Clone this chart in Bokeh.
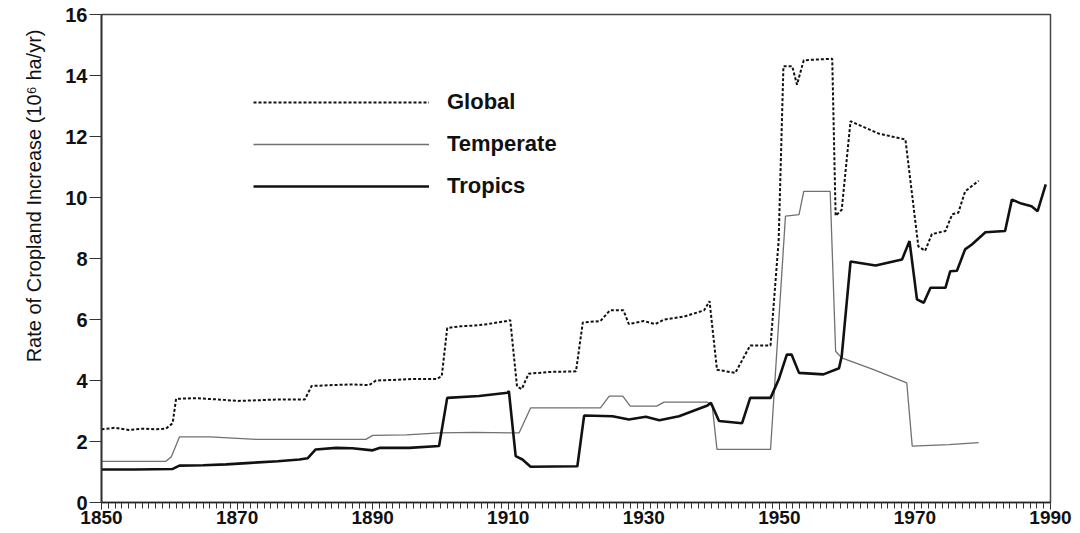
from bokeh.plotting import figure
from bokeh.models import FixedTicker, Legend, LegendItem, Range1d, Title
from bokeh.embed import file_html
from bokeh.resources import INLINE

# ---- data ----
global_years = [1850, 1852, 1854, 1856, 1858, 1859.5, 1860.5, 1861, 1864, 1867, 1870, 1873, 1876,
                1880, 1881, 1884, 1887, 1889.5, 1890.5, 1893, 1896, 1899.5, 1900.2, 1901, 1903,
                1905, 1907, 1909.8, 1910.3, 1911.3, 1912, 1913, 1916, 1920, 1921, 1923.6, 1925,
                1927, 1927.8, 1930, 1931.7, 1933, 1936, 1938.9, 1939.7, 1940.8, 1943.5, 1945.7,
                1948.7, 1949.9, 1950.6, 1951.9, 1952.6, 1953.6, 1957.8, 1958.3, 1959.2, 1960.5,
                1964.6, 1968.6, 1970.5, 1971.5, 1972.5, 1974.5, 1975.5, 1976.4, 1977.4, 1979.4]
global_vals = [2.4, 2.45, 2.38, 2.42, 2.4, 2.42, 2.6, 3.4, 3.42, 3.38, 3.33, 3.35, 3.38,
               3.38, 3.82, 3.85, 3.87, 3.85, 4.0, 4.02, 4.05, 4.05, 4.15, 5.72, 5.78,
               5.8, 5.85, 5.95, 5.98, 3.8, 3.72, 4.22, 4.28, 4.3, 5.9, 5.95, 6.3,
               6.3, 5.85, 5.95, 5.85, 6.0, 6.1, 6.3, 6.6, 4.35, 4.25, 5.15,
               5.15, 8.6, 14.3, 14.3, 13.7, 14.5, 14.55, 9.4, 9.6, 12.5,
               12.1, 11.9, 8.4, 8.25, 8.8, 8.9, 9.45, 9.5, 10.2, 10.55]

temperate_years = [1850, 1855, 1859.5, 1860.3, 1861.5, 1866, 1872.8, 1880, 1889, 1890, 1895, 1899.9,
                   1905, 1911.6, 1913.3, 1918, 1923.6, 1924.9, 1926.9, 1928, 1931.9, 1933, 1939.4,
                   1940.1, 1940.8, 1948.7, 1950.9, 1952.9, 1953.6, 1957.5, 1958.3, 1959.2, 1964,
                   1968.8, 1969.6, 1975, 1979.4]
temperate_vals = [1.35, 1.35, 1.35, 1.5, 2.15, 2.15, 2.07, 2.07, 2.07, 2.2, 2.22, 2.28,
                  2.3, 2.28, 3.1, 3.1, 3.1, 3.49, 3.49, 3.16, 3.16, 3.29, 3.29,
                  3.16, 1.74, 1.74, 9.39, 9.44, 10.2, 10.2, 4.96, 4.74, 4.35,
                  3.92, 1.85, 1.9, 1.96]

tropics_years = [1850, 1855, 1860.5, 1861.5, 1865, 1868.4, 1872, 1876, 1879.2, 1880.4, 1881.6,
                 1884.6, 1887, 1890, 1891, 1895.4, 1899.8, 1901, 1905.7, 1909.9, 1910.1, 1911.1,
                 1912.1, 1913.3, 1920.2, 1921.2, 1925.4, 1927.8, 1930.3, 1932.3, 1935.2, 1939.4,
                 1939.9, 1941.1, 1944.5, 1945.7, 1948.7, 1949.9, 1951.1, 1951.8, 1952.9, 1956.5,
                 1958.8, 1959.2, 1960.5, 1964.2, 1968.1, 1969.2, 1970.3, 1971.3, 1972.3, 1974.5,
                 1975.2, 1976.2, 1977.4, 1978.4, 1980.4, 1983.3, 1984.3, 1985.7, 1987.2, 1988.1,
                 1989.3]
tropics_vals = [1.08, 1.08, 1.1, 1.21, 1.22, 1.25, 1.3, 1.35, 1.41, 1.45, 1.74,
                1.79, 1.78, 1.71, 1.79, 1.79, 1.85, 3.43, 3.49, 3.6, 3.65, 1.52,
                1.41, 1.17, 1.19, 2.85, 2.83, 2.72, 2.81, 2.7, 2.83, 3.18,
                3.27, 2.67, 2.6, 3.43, 3.43, 4.03, 4.85, 4.85, 4.25, 4.2,
                4.4, 4.8, 7.9, 7.77, 7.97, 8.57, 6.66, 6.55, 7.04, 7.04,
                7.58, 7.6, 8.3, 8.46, 8.86, 8.9, 9.93, 9.8, 9.71, 9.55,
                10.43]

series_labels = ["Global", "Temperate", "Tropics"]
x_major_ticks = [1850, 1870, 1890, 1910, 1930, 1950, 1970, 1990]
x_minor_ticks = list(range(1850, 1991))
y_major_ticks = [0, 2, 4, 6, 8, 10, 12, 14, 16]
y_title = "Rate of Cropland Increase (10\u2076 ha/yr)"

assert len(global_years) == len(global_vals)
assert len(temperate_years) == len(temperate_vals)
assert len(tropics_years) == len(tropics_vals)

FONT = "Liberation Sans"

p = figure(width=1075, height=532,
           x_range=Range1d(1850, 1990), y_range=Range1d(0, 16),
           output_backend="svg", toolbar_location=None,
           min_border_left=101, min_border_right=25, min_border_top=14, min_border_bottom=30)

p.xgrid.visible = False
p.ygrid.visible = False
p.background_fill_color = "white"
p.border_fill_color = "white"
p.outline_line_color = "#444444"
p.outline_line_width = 1.5

g = p.line(global_years, global_vals, line_color="#111111", line_width=2.0, line_dash="3 2")
t = p.line(temperate_years, temperate_vals, line_color="#707070", line_width=1.3)
tr = p.line(tropics_years, tropics_vals, line_color="#111111", line_width=2.6)

# x axis
xa = p.xaxis[0]
xa.ticker = FixedTicker(ticks=x_major_ticks, minor_ticks=x_minor_ticks)
xa.major_tick_out = 7
xa.major_tick_in = 0
xa.minor_tick_out = 6
xa.minor_tick_in = 0
xa.major_label_standoff = 1
xa.major_label_text_font = FONT
xa.major_label_text_font_style = "bold"
xa.major_label_text_font_size = "19px"
xa.major_label_text_color = "#111111"
xa.axis_line_width = 1.5
xa.axis_line_color = "#222222"
xa.major_tick_line_color = "#222222"
xa.minor_tick_line_color = "#333333"

# y axis
ya = p.yaxis[0]
ya.ticker = FixedTicker(ticks=y_major_ticks, minor_ticks=[])
ya.major_tick_out = 12
ya.major_tick_in = 0
ya.minor_tick_line_color = None
ya.major_label_standoff = 2
ya.major_label_text_font = FONT
ya.major_label_text_font_style = "bold"
ya.major_label_text_font_size = "20px"
ya.major_label_text_color = "#111111"
ya.axis_line_width = 1.8
ya.axis_line_color = "#333333"
ya.major_tick_line_color = "#333333"

# y axis title as a side title, placed towards the top as in the reference
ytitle = Title(text=y_title, align="right", offset=15, standoff=36,
               text_font=FONT, text_font_size="20px", text_font_style="normal",
               text_color="#111111")
p.add_layout(ytitle, "left")

legend = Legend(items=[LegendItem(label=series_labels[0], renderers=[g]),
                       LegendItem(label=series_labels[1], renderers=[t]),
                       LegendItem(label=series_labels[2], renderers=[tr])],
                location=(152, 303), orientation="vertical",
                glyph_width=176, glyph_height=22, label_height=22, spacing=16,
                label_standoff=18, padding=0, margin=0,
                border_line_color=None, background_fill_alpha=0,
                label_text_font=FONT, label_text_font_style="bold",
                label_text_font_size="22px", label_text_color="#111111")
p.add_layout(legend)

open("out.html", "w").write(file_html(p, INLINE))
